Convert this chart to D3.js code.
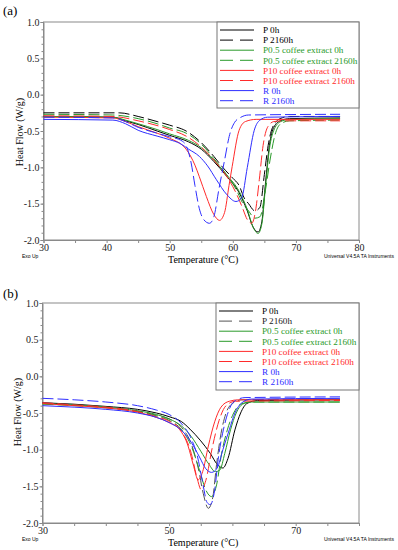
<!DOCTYPE html>
<html lang="en">
<head>
<meta charset="UTF-8">
<title>DSC curves</title>
<script src="https://d3js.org/d3.v7.min.js"></script>
<style>
  body { margin: 0; background: #fff; }
  svg text { font-family: 'Liberation Serif', 'Times New Roman', serif; }
</style>
</head>
<body>
<div id="chart"></div>
<script>
// Series names, shared by both panels (legend order)
const seriesNames = ["P 0h", "P 2160h", "P0.5 coffee extract 0h", "P0.5 coffee extract 2160h",
                     "P10 coffee extract 0h", "P10 coffee extract 2160h", "R 0h", "R 2160h"];

// Panel (a): [temperature °C, heat flow W/g]
const a_P0 = [[30,-0.3],[41,-0.31],[43,-0.36],[45,-0.41],[48,-0.5],[50,-0.56],[53,-0.65],[55,-0.75],[57,-0.92],[59,-1.12],[61,-1.35],[62.3,-1.6],[63.2,-1.82],[64,-1.89],[64.6,-1.75],[65.2,-1.2],[65.8,-0.7],[66.5,-0.45],[67.5,-0.36],[69,-0.33],[77,-0.32]];
const a_P2160 = [[30,-0.25],[42,-0.25],[45,-0.3],[48,-0.37],[50,-0.42],[52.6,-0.5],[55,-0.66],[57,-0.85],[58.4,-1.0],[60,-1.15],[61,-1.25],[61.8,-1.42],[62.5,-1.5],[63.5,-1.6],[64.3,-1.55],[65,-1.1],[65.6,-0.7],[66.3,-0.45],[67.5,-0.33],[69,-0.3],[77,-0.3]];
const a_P05_0 = [[30,-0.3],[41,-0.31],[43,-0.35],[45,-0.4],[48,-0.48],[50,-0.54],[53,-0.63],[55,-0.73],[57,-0.9],[59,-1.1],[61,-1.33],[62.3,-1.58],[63.2,-1.82],[64,-1.91],[64.6,-1.78],[65.2,-1.25],[65.8,-0.75],[66.6,-0.47],[67.6,-0.37],[69,-0.34],[77,-0.33]];
const a_P05_2160 = [[30,-0.27],[41,-0.28],[45,-0.33],[48,-0.4],[50,-0.46],[52.6,-0.53],[55,-0.68],[57,-0.88],[59,-1.1],[60.5,-1.3],[61.5,-1.48],[62.5,-1.6],[63.5,-1.7],[64.3,-1.68],[65.2,-1.3],[65.9,-0.9],[66.7,-0.55],[67.6,-0.4],[69,-0.36],[77,-0.35]];
const a_P10_0 = [[30,-0.31],[41,-0.32],[43,-0.37],[45,-0.44],[48,-0.53],[50,-0.6],[52.6,-0.75],[54,-0.97],[54.7,-1.13],[55.8,-1.4],[57,-1.65],[57.9,-1.73],[58.7,-1.62],[59.4,-1.25],[59.9,-0.99],[61,-0.49],[62,-0.37],[63.7,-0.34],[77,-0.34]];
const a_P10_2160 = [[30,-0.29],[41,-0.3],[45,-0.36],[50,-0.48],[52.6,-0.57],[55,-0.72],[57,-0.9],[59,-1.12],[60.5,-1.35],[61.5,-1.55],[62.3,-1.72],[63,-1.77],[63.6,-1.6],[64.2,-1.17],[64.8,-0.7],[65.5,-0.45],[66.5,-0.37],[68,-0.36],[77,-0.36]];
const a_R0 = [[30,-0.34],[41,-0.35],[43,-0.4],[45,-0.49],[48,-0.57],[50,-0.62],[51.6,-0.67],[53,-0.75],[54.7,-0.85],[56,-0.98],[57.4,-1.17],[59,-1.37],[60.5,-1.47],[61.4,-1.42],[62.3,-1.0],[63.4,-0.49],[64.3,-0.35],[65.5,-0.31],[77,-0.3]];
const a_R2160 = [[30,-0.31],[41,-0.32],[43,-0.37],[45,-0.45],[48,-0.53],[50,-0.58],[52,-0.64],[52.6,-0.7],[53.4,-0.94],[54,-1.25],[54.7,-1.57],[55.4,-1.72],[56.3,-1.77],[57,-1.68],[57.8,-1.3],[58.7,-0.9],[59.5,-0.55],[60.3,-0.38],[61.3,-0.31],[62.5,-0.28],[77,-0.27]];

// Panel (b)
const b_P0 = [[30,-0.36],[35,-0.38],[40,-0.41],[45,-0.45],[48,-0.5],[50,-0.55],[52,-0.62],[53.3,-0.72],[55,-0.88],[56.5,-1.05],[57.6,-1.2],[58.5,-1.25],[59.3,-1.12],[60.4,-0.73],[61.3,-0.5],[62.3,-0.37],[64,-0.33],[77,-0.32]];
const b_P2160 = [[30,-0.36],[35,-0.39],[40,-0.42],[45,-0.47],[48,-0.53],[50,-0.58],[52,-0.7],[53.5,-0.92],[54.6,-1.25],[55.4,-1.6],[56.2,-1.8],[56.9,-1.65],[57.5,-1.2],[58.2,-0.78],[59,-0.5],[60,-0.37],[61.5,-0.32],[77,-0.31]];
const b_P05_0 = [[30,-0.37],[35,-0.39],[40,-0.42],[45,-0.47],[48,-0.52],[50,-0.58],[52,-0.68],[53.5,-0.82],[55,-1.02],[56.3,-1.2],[57.3,-1.3],[58,-1.28],[58.8,-1.05],[59.7,-0.73],[60.6,-0.5],[61.6,-0.38],[63,-0.35],[77,-0.35]];
const b_P05_2160 = [[30,-0.38],[35,-0.4],[40,-0.43],[45,-0.48],[48,-0.54],[50,-0.6],[52,-0.73],[53.5,-0.95],[54.8,-1.28],[55.8,-1.55],[56.7,-1.64],[57.5,-1.48],[58.3,-1.05],[59.2,-0.73],[60.2,-0.5],[61.3,-0.38],[63,-0.35],[77,-0.35]];
const b_P10_0 = [[30,-0.37],[35,-0.4],[40,-0.43],[45,-0.49],[48,-0.56],[50,-0.63],[51.7,-0.73],[53,-0.95],[53.8,-1.2],[54.6,-1.41],[55.3,-1.3],[56.2,-0.95],[57.2,-0.62],[58.2,-0.42],[59.5,-0.34],[61,-0.32],[77,-0.32]];
const b_P10_2160 = [[30,-0.36],[35,-0.39],[40,-0.42],[45,-0.48],[48,-0.55],[50,-0.61],[52,-0.75],[53.5,-1.05],[54.4,-1.38],[55.1,-1.55],[55.8,-1.42],[56.8,-0.98],[57.9,-0.6],[59,-0.4],[60.5,-0.34],[77,-0.33]];
const b_R0 = [[30,-0.4],[35,-0.42],[40,-0.45],[45,-0.5],[48,-0.56],[50,-0.63],[52,-0.74],[53.5,-0.9],[54.8,-1.1],[55.8,-1.26],[56.7,-1.31],[57.6,-1.25],[58.5,-1.0],[59.5,-0.73],[60.4,-0.5],[61.5,-0.36],[63,-0.31],[77,-0.3]];
const b_R2160 = [[30,-0.3],[35,-0.32],[40,-0.35],[45,-0.4],[48,-0.46],[50,-0.52],[52,-0.65],[53.5,-0.85],[54.5,-1.1],[55.3,-1.45],[56,-1.72],[56.5,-1.75],[57.2,-1.55],[57.8,-1.1],[58.6,-0.72],[59.5,-0.45],[60.5,-0.33],[62,-0.29],[77,-0.28]];

const yTickValues = [1.0, 0.5, 0.0, -0.5, -1.0, -1.5, -2.0];
const xTicksA = [30, 40, 50, 60, 70, 80];
const xTicksB = [30, 50, 70];

// styling per series (same order as seriesNames)
const colorsA = ["#000", "#000", "#2a9a2a", "#2a9a2a", "#ff2b2b", "#ff2b2b", "#2e2eff", "#2e2eff"];
const colorsB = ["#000", "#555", "#2a9a2a", "#2a9a2a", "#ff2b2b", "#ff2b2b", "#2e2eff", "#2e2eff"];
const dashed = [false, true, false, true, false, true, false, true];

const svg = d3.select("#chart").append("svg")
    .attr("width", 398)
    .attr("height", 550);

function drawPanel(p) {
    const x = d3.scaleLinear().domain([30, 80]).range([p.left, p.right]);
    const y = d3.scaleLinear().domain([-2, 1]).range([p.bottom, p.top]);
    const g = svg.append("g");

    // frame
    g.append("rect")
        .attr("x", p.left).attr("y", p.top)
        .attr("width", p.right - p.left).attr("height", p.bottom - p.top)
        .attr("fill", "none").attr("stroke", "#8a8a8a").attr("stroke-width", 1);

    // x axis: ticks every 5, labels on chosen values
    const xAxis = g.append("g")
        .attr("transform", `translate(0,${p.bottom})`)
        .call(d3.axisBottom(x).tickValues(d3.range(30, 81, 5)).tickSize(3).tickFormat(d => p.xTicks.includes(d) ? d : ""));
    xAxis.select(".domain").attr("stroke", "#8a8a8a");
    xAxis.selectAll(".tick line").attr("stroke", "#8a8a8a");
    xAxis.selectAll(".tick text")
        .attr("fill", "#222").attr("y", 4)
        .style("font-size", "10px").style("font-family", "'Liberation Serif', serif");

    // y axis: minor ticks every 0.1
    const yMinor = g.append("g")
        .attr("transform", `translate(${p.left},0)`)
        .call(d3.axisLeft(y).tickValues(d3.range(-20, 11, 1).map(v => v / 10)).tickSize(2).tickFormat(""));
    yMinor.select(".domain").remove();
    yMinor.selectAll(".tick line").attr("stroke", "#8a8a8a");

    const yAxis = g.append("g")
        .attr("transform", `translate(${p.left},0)`)
        .call(d3.axisLeft(y).tickValues(yTickValues).tickSize(3).tickFormat(d3.format(".1f")));
    yAxis.select(".domain").attr("stroke", "#8a8a8a");
    yAxis.selectAll(".tick line").attr("stroke", "#8a8a8a");
    yAxis.selectAll(".tick text")
        .text(d => d3.format(".1f")(d).replace("−", "-"))
        .attr("fill", "#222").attr("x", -4)
        .style("font-size", "10px").style("font-family", "'Liberation Serif', serif");

    // curves
    const line = d3.line()
        .x(d => x(d[0]))
        .y(d => y(d[1]))
        .curve(d3.curveMonotoneX);

    p.series.forEach((s, i) => {
        g.append("path")
            .datum(s)
            .attr("d", line)
            .attr("fill", "none")
            .attr("stroke", p.colors[i])
            .attr("stroke-width", 1)
            .attr("stroke-dasharray", dashed[i] ? "11,4" : null);
    });

    // legend
    const lg = g.append("g");
    lg.append("rect")
        .attr("x", p.legLeft).attr("y", p.top)
        .attr("width", p.right - p.legLeft).attr("height", p.legH)
        .attr("fill", "#fff").attr("stroke", "#777").attr("stroke-width", 1);
    seriesNames.forEach((name, i) => {
        const yy = p.top + 8 + i * 10.1;
        lg.append("line")
            .attr("x1", p.legLeft + 3).attr("x2", p.legLeft + 37)
            .attr("y1", yy).attr("y2", yy)
            .attr("stroke", p.colors[i]).attr("stroke-width", 1)
            .attr("stroke-dasharray", dashed[i] ? "13,7" : null);
        lg.append("text")
            .attr("x", p.legLeft + 46).attr("y", yy + 3.2)
            .attr("fill", p.colors[i] === "#555" ? "#222" : p.colors[i])
            .style("font-size", "9.2px")
            .text(name);
    });

    // labels
    svg.append("text")
        .attr("x", 3).attr("y", p.panelLabelY)
        .style("font-size", "13px")
        .text(p.label);

    svg.append("text")
        .attr("transform", `translate(${p.yLabelX},${p.yLabelY}) rotate(-90)`)
        .attr("text-anchor", "middle")
        .style("font-size", "10px")
        .text("Heat Flow (W/g)");

    svg.append("text")
        .attr("x", 168).attr("y", p.bottom + 23)
        .style("font-size", "10px")
        .text("Temperature (°C)");

    svg.append("text")
        .attr("x", 22).attr("y", p.bottom + 18)
        .style("font-family", "'Liberation Sans', Arial, sans-serif")
        .style("font-size", "5px")
        .text("Exo Up");

    svg.append("text")
        .attr("x", 394).attr("y", p.bottom + 18)
        .attr("text-anchor", "end")
        .style("font-family", "'Liberation Sans', Arial, sans-serif")
        .style("font-size", "5px")
        .text("Universal V4.5A TA Instruments");
}

drawPanel({
    label: "(a)", panelLabelY: 15,
    left: 43.5, right: 359, top: 22, bottom: 240,
    legLeft: 217, legH: 86,
    xTicks: xTicksA,
    yLabelX: 23, yLabelY: 132,
    colors: colorsA,
    series: [a_P0, a_P2160, a_P05_0, a_P05_2160, a_P10_0, a_P10_2160, a_R0, a_R2160]
});

drawPanel({
    label: "(b)", panelLabelY: 298,
    left: 42.5, right: 359, top: 303, bottom: 523,
    legLeft: 216, legH: 87,
    xTicks: xTicksB,
    yLabelX: 21, yLabelY: 412,
    colors: colorsB,
    series: [b_P0, b_P2160, b_P05_0, b_P05_2160, b_P10_0, b_P10_2160, b_R0, b_R2160]
});
</script>
</body>
</html>
